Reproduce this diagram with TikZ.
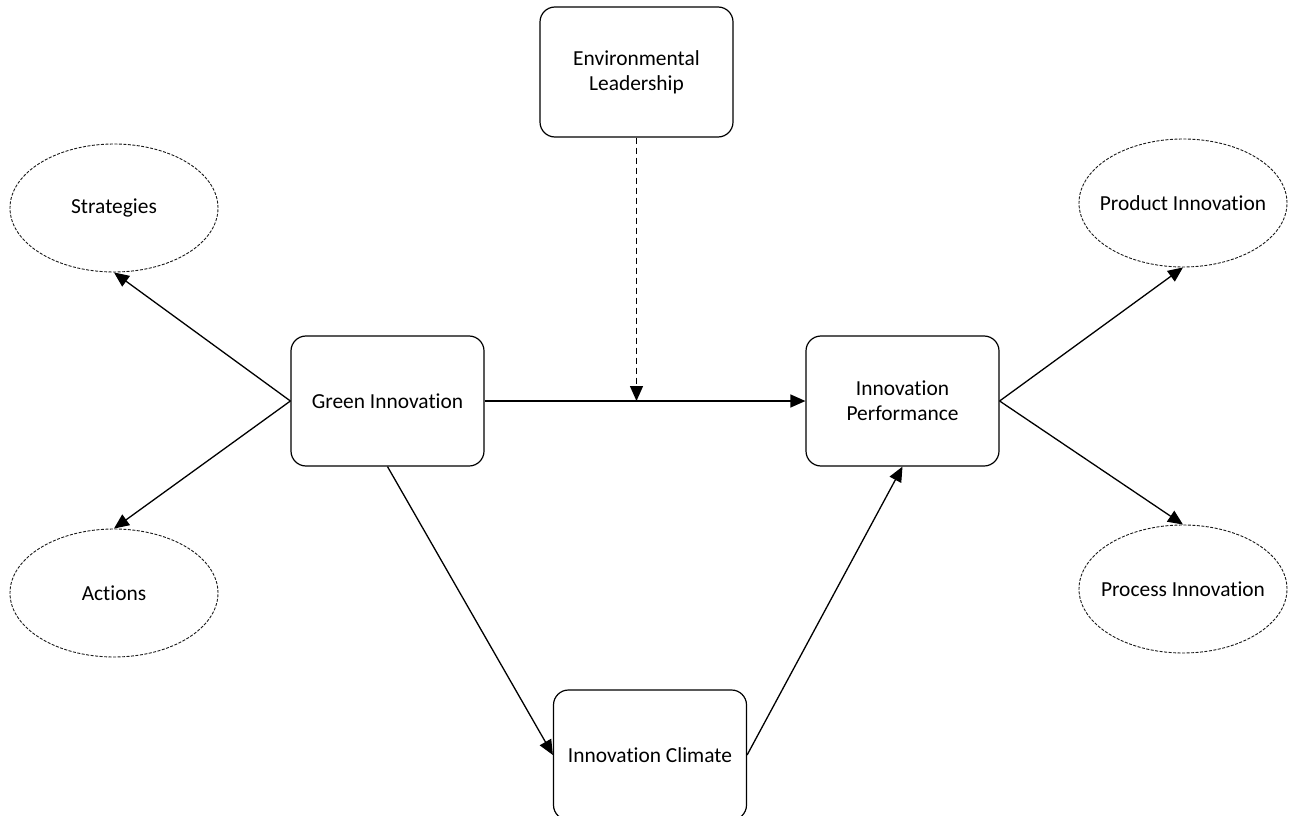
\documentclass[tikz,border=0pt]{standalone}
\usepackage{fontspec}
\setmainfont{Carlito}[Ligatures=NoCommon]
\usepackage{xcolor}
\usetikzlibrary{shapes.geometric}
\usetikzlibrary{arrows.meta}
\definecolor{boxColor}{HTML}{000000}
\definecolor{ovalColor}{HTML}{1A1A1A}
\definecolor{linkColor}{HTML}{000000}
\definecolor{labelTextColor}{HTML}{000000}
\def\ovalLabel#1{\makebox[0pt]{#1}}
\def\textEnv{Environmental\\Leadership}
\def\textGreen{Green Innovation}
\def\textPerf{Innovation\\Performance}
\def\textClimate{Innovation Climate}
\def\textStrat{\ovalLabel{Strategies}}
\def\textAct{\ovalLabel{Actions}}
\def\textProd{\ovalLabel{Product Innovation}}
\def\textProc{\ovalLabel{Process Innovation}}

\begin{document}
\begin{tikzpicture}[x=1bp,y=-1bp,
  conceptBox/.style={draw=boxColor, line width=1.2bp, rounded corners=15bp,
    minimum width=193bp, minimum height=130bp, align=center,
    text=labelTextColor, font=\fontsize{21.5}{25.5}\selectfont},
  facetOval/.style={ellipse, draw=ovalColor, line width=0.9bp, inner sep=0pt,
    dash pattern=on 3bp off 1.5bp, minimum width=208bp, minimum height=128bp,
    text=labelTextColor, font=\fontsize{21.5}{25.5}\selectfont},
  link/.style={draw=linkColor, line width=1.3bp,
    -{Triangle[length=15bp, width=13bp]}},
  modLink/.style={link, dash pattern=on 6bp off 4bp}]

% page frame
\useasboundingbox (0, 0) rectangle (1290, 816);

% box layer
\begin{scope}
\node[conceptBox] (env) at (636.5, 72) {\textEnv};
\node[conceptBox] (green) at (387.5, 401) {\textGreen};
\node[conceptBox] (perf) at (902.5, 401) {\textPerf};
\node[conceptBox] (climate) at (650, 755) {\textClimate};
\end{scope}

% oval layer
\begin{scope}
\node[facetOval] (strat) at (114, 208) {\textStrat};
\node[facetOval] (act) at (114, 593) {\textAct};
\node[facetOval] (prod) at (1183, 203) {\textProd};
\node[facetOval] (proc) at (1183, 589) {\textProc};
\end{scope}

% link layer
\begin{scope}
\draw[link] (green.west) -- (strat.south);
\draw[link] (green.west) -- (act.north);
\draw[link] (green.east) -- (perf.west);
\draw[link] (green.south) -- (climate.west);
\draw[link] (climate.east) -- (perf.south);
\draw[link] (perf.east) -- (prod.south);
\draw[link] (perf.east) -- (proc.north);
\end{scope}

% moderation
\coordinate (join) at (env.south |- green.east);
\begin{scope}
\draw[modLink] (env.south) -- (join);
\end{scope}

\end{tikzpicture}
\end{document}
